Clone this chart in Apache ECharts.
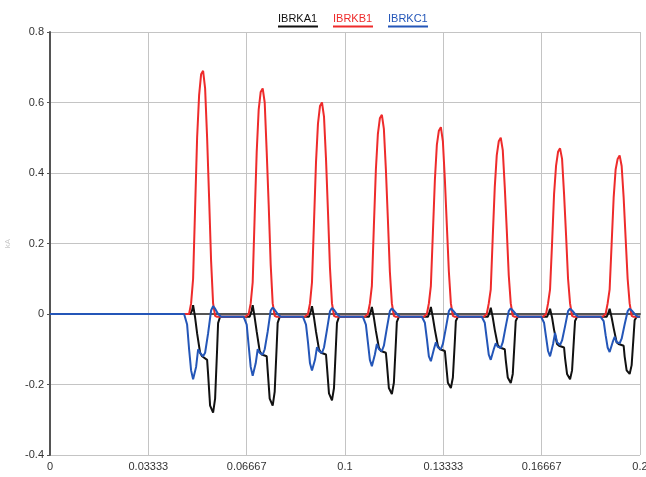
<!DOCTYPE html>
<html>
<head>
<meta charset="utf-8">
<script src="https://cdn.jsdelivr.net/npm/echarts@6/dist/echarts.min.js"></script>
<style>
  html, body { margin: 0; padding: 0; background: #fff; }
  #chart { width: 646px; height: 477px; }
</style>
</head>
<body>
<div id="chart"></div>
<script>
// breaker currents, 8 pulses, one per 20 ms cycle
const seriesNames = ['IBRKA1', 'IBRKB1', 'IBRKC1'];
const xTickLabels = ['0', '0.03333', '0.06667', '0.1', '0.13333', '0.16667', '0.2'];

// time of each red peak (s)
const pulseCenters = [0.0519, 0.0721, 0.0922, 0.1125, 0.1325, 0.1528, 0.1729, 0.1931];

// sample offsets from the pulse center, in ms
const redOffsets = [-5.76, -4.75, -4.07, -3.39, -2.71, -2.03, -1.36, -0.68, 0, 0.68, 1.36, 2.03, 2.71, 3.39, 4.07, 4.75];
const blueOffsets = [-6.44, -5.42, -4.75, -4.07, -3.39, -3.05, -2.37, -1.69, -1.02, 0, 0.68, 1.69, 2.71, 3.39, 4.07, 5.08, 6.10];
const blackOffsets = [-4.41, -3.73, -3.39, -2.71, -2.03, -1.02, -0.34, 1.36, 1.69, 2.37, 3.39, 4.07, 4.75, 5.08, 5.76];

// IBRKB1 (red)
const redPulses = [
  [0, 0.0, 0.03, 0.10, 0.30, 0.50, 0.62, 0.68, 0.69, 0.64, 0.50, 0.33, 0.15, 0.03, -0.005, -0.008],
  [-0.008, 0.0, 0.03, 0.09, 0.28, 0.46, 0.58, 0.63, 0.64, 0.60, 0.46, 0.31, 0.14, 0.03, -0.005, -0.008],
  [-0.008, 0.0, 0.03, 0.09, 0.26, 0.43, 0.54, 0.59, 0.60, 0.56, 0.44, 0.29, 0.13, 0.03, -0.005, -0.008],
  [-0.008, 0.0, 0.03, 0.08, 0.25, 0.41, 0.51, 0.555, 0.565, 0.525, 0.41, 0.27, 0.12, 0.03, -0.005, -0.008],
  [-0.008, 0.0, 0.03, 0.08, 0.23, 0.38, 0.48, 0.52, 0.53, 0.49, 0.38, 0.25, 0.12, 0.03, -0.005, -0.008],
  [-0.008, 0.0, 0.03, 0.07, 0.22, 0.36, 0.45, 0.49, 0.50, 0.465, 0.36, 0.24, 0.11, 0.03, -0.005, -0.008],
  [-0.008, 0.0, 0.03, 0.07, 0.20, 0.34, 0.42, 0.46, 0.47, 0.44, 0.34, 0.225, 0.10, 0.03, -0.005, -0.008],
  [-0.008, 0.0, 0.03, 0.07, 0.20, 0.33, 0.41, 0.44, 0.45, 0.42, 0.33, 0.215, 0.10, 0.03, -0.005, -0.008]
];

// IBRKC1 (blue)
const bluePulses = [
  [0, -0.03, -0.10, -0.16, -0.185, -0.19, -0.15, -0.10, -0.11, -0.12, -0.11, -0.055, 0.01, 0.022, 0.015, 0.0, -0.008],
  [-0.008, -0.03, -0.09, -0.15, -0.175, -0.18, -0.14, -0.10, -0.11, -0.115, -0.10, -0.05, 0.01, 0.018, 0.012, 0.0, -0.008],
  [-0.008, -0.03, -0.08, -0.14, -0.16, -0.165, -0.13, -0.094, -0.105, -0.11, -0.095, -0.045, 0.008, 0.017, 0.012, 0.0, -0.008],
  [-0.008, -0.03, -0.08, -0.13, -0.148, -0.15, -0.115, -0.085, -0.10, -0.105, -0.09, -0.04, 0.008, 0.016, 0.01, 0.0, -0.008],
  [-0.008, -0.025, -0.07, -0.12, -0.134, -0.136, -0.10, -0.08, -0.095, -0.10, -0.085, -0.04, 0.008, 0.016, 0.01, 0.0, -0.008],
  [-0.008, -0.025, -0.07, -0.115, -0.13, -0.133, -0.10, -0.083, -0.093, -0.096, -0.08, -0.035, 0.008, 0.016, 0.01, 0.0, -0.008],
  [-0.008, -0.025, -0.065, -0.105, -0.12, -0.122, -0.085, -0.054, -0.08, -0.088, -0.075, -0.035, 0.008, 0.015, 0.01, 0.0, -0.008],
  [-0.008, -0.02, -0.06, -0.095, -0.108, -0.11, -0.08, -0.065, -0.08, -0.083, -0.07, -0.03, 0.008, 0.015, 0.01, 0.0, -0.008]
];

// IBRKA1 (black)
const blackPulses = [
  [0, 0.01, 0.025, -0.01, -0.055, -0.11, -0.12, -0.13, -0.17, -0.26, -0.28, -0.24, -0.10, -0.026, -0.008],
  [-0.008, 0.01, 0.025, -0.01, -0.05, -0.105, -0.115, -0.12, -0.16, -0.24, -0.26, -0.22, -0.09, -0.025, -0.008],
  [-0.008, 0.01, 0.022, -0.01, -0.05, -0.10, -0.11, -0.115, -0.15, -0.225, -0.245, -0.21, -0.085, -0.025, -0.008],
  [-0.008, 0.008, 0.02, -0.01, -0.048, -0.095, -0.105, -0.11, -0.14, -0.21, -0.227, -0.195, -0.08, -0.022, -0.008],
  [-0.008, 0.008, 0.02, -0.01, -0.045, -0.09, -0.10, -0.105, -0.135, -0.195, -0.21, -0.18, -0.075, -0.02, -0.008],
  [-0.008, 0.006, 0.018, -0.01, -0.045, -0.088, -0.095, -0.10, -0.13, -0.18, -0.196, -0.17, -0.07, -0.02, -0.008],
  [-0.008, 0.006, 0.015, -0.01, -0.045, -0.085, -0.09, -0.095, -0.125, -0.17, -0.185, -0.16, -0.065, -0.02, -0.008],
  [-0.008, 0.005, 0.015, -0.01, -0.04, -0.08, -0.085, -0.09, -0.12, -0.16, -0.17, -0.145, -0.06, -0.018, -0.008]
];

const colors = ['#111111', '#ee2b2b', '#2456b8'];
const font = 'Liberation Sans, Arial, sans-serif';

function buildPoints(rows, offsets) {
  const pts = [[0, 0]];
  pulseCenters.forEach((c, i) => {
    offsets.forEach((o, j) => {
      pts.push([c + o / 1000, rows[i][j]]);
    });
  });
  pts.push([0.2, -0.008]);
  return pts;
}

const chart = echarts.init(document.getElementById('chart'), null, { renderer: 'canvas' });

const xStep = 0.2 / 6;

const option = {
  animation: false,
  backgroundColor: '#fff',
  color: colors,
  legend: {
    top: 8,
    left: 268,
    itemGap: 10,
    itemWidth: 0,
    itemHeight: 0,
    icon: 'none',
    data: seriesNames.map((n, i) => ({
      name: n,
      textStyle: { color: colors[i] }
    })),
    formatter: name => name + '\n{u' + seriesNames.indexOf(name) + '| }',
    textStyle: {
      fontFamily: font,
      fontSize: 11,
      lineHeight: 12,
      rich: {
        u0: { width: 40, height: 2, lineHeight: 3, backgroundColor: colors[0] },
        u1: { width: 40, height: 2, lineHeight: 3, backgroundColor: colors[1] },
        u2: { width: 40, height: 2, lineHeight: 3, backgroundColor: colors[2] }
      }
    }
  },
  grid: {
    left: 50,
    right: 6,
    top: 32,
    bottom: 22,
    outerBoundsMode: 'none'
  },
  xAxis: {
    type: 'value',
    min: 0,
    max: 0.2,
    interval: xStep,
    axisLine: { show: true, lineStyle: { color: '#555', width: 2 } },
    axisTick: { show: false },
    axisLabel: {
      color: '#333',
      fontFamily: font,
      fontSize: 11,
      margin: 6,
      formatter: v => xTickLabels[Math.round(v / xStep)] || ''
    },
    splitLine: { show: true, lineStyle: { color: '#c4c4c4', width: 1 } }
  },
  yAxis: {
    type: 'value',
    min: -0.4,
    max: 0.8,
    interval: 0.2,
    name: 'kA',
    nameLocation: 'middle',
    nameGap: 38,
    nameRotate: 90,
    nameTextStyle: { color: '#c8c8c8', fontSize: 8, fontFamily: font },
    axisLine: { show: true, lineStyle: { color: '#555', width: 2 } },
    axisTick: { show: true, length: 3, lineStyle: { color: '#555' } },
    axisLabel: {
      color: '#333',
      fontFamily: font,
      fontSize: 11,
      margin: 6,
      formatter: v => String(Math.round(v * 10) / 10)
    },
    splitLine: { show: true, lineStyle: { color: '#c4c4c4', width: 1 } }
  },
  series: [
    { name: seriesNames[0], type: 'line', showSymbol: false, lineStyle: { width: 2, color: colors[0] }, data: buildPoints(blackPulses, blackOffsets) },
    { name: seriesNames[1], type: 'line', showSymbol: false, lineStyle: { width: 2, color: colors[1] }, data: buildPoints(redPulses, redOffsets) },
    { name: seriesNames[2], type: 'line', showSymbol: false, lineStyle: { width: 2, color: colors[2] }, data: buildPoints(bluePulses, blueOffsets) }
  ]
};

chart.setOption(option);
</script>
</body>
</html>
